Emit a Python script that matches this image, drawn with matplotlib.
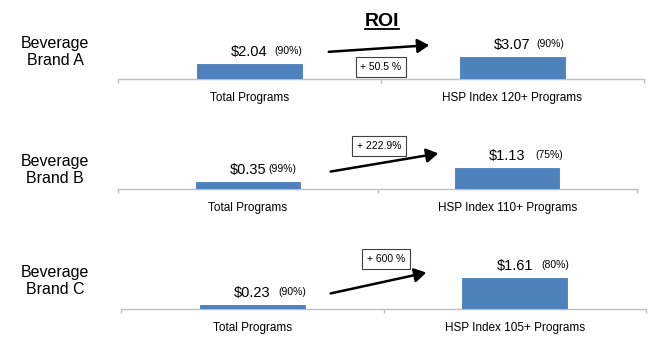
import matplotlib
matplotlib.use("Agg")
import matplotlib.pyplot as plt
from matplotlib.lines import Line2D

plt.rcParams["font.family"] = ["Liberation Sans", "DejaVu Sans"]

# ---- data -------------------------------------------------------------
brands = ["Beverage\nBrand A", "Beverage\nBrand B", "Beverage\nBrand C"]
categories_a = ["Total Programs", "HSP Index 120+ Programs"]
categories_b = ["Total Programs", "HSP Index 110+ Programs"]
categories_c = ["Total Programs", "HSP Index 105+ Programs"]
roi_a = [2.04, 3.07]
roi_b = [0.35, 1.13]
roi_c = [0.23, 1.61]
share_a = ["(90%)", "(90%)"]
share_b = ["(99%)", "(75%)"]
share_c = ["(90%)", "(80%)"]
lift_labels = ["+ 50.5 %", "+ 222.9%", "+ 600 %"]

# ---- layout (pixels, origin top-left) ----------------------------------
W, H = 663, 338
BLUE = "#4F81BD"
GRID = "#BFBFBF"

# axes: left, right, baseline y, y-scale (px per $)
panel_boxes = [(118, 644, 79, 7.3), (118, 637, 189, 18.8), (121, 646, 309, 19.5)]
panel_h = 49
brand_pos = [(55, 52), (55, 170), (55, 281)]
arrows = [((326, 52), (432, 45)), ((328, 172), (441, 153)), ((328, 294), (429, 272))]
boxes = [(381, 67), (379, 146), (386, 259)]
share_dx = [(25, 24), (21, 28), (26, 27)]


def fx(x):
    return x / W


def fy(y):
    return 1 - y / H


fig = plt.figure(figsize=(W / 100, H / 100), dpi=100)

panels = [
    (categories_a, roi_a, share_a),
    (categories_b, roi_b, share_b),
    (categories_c, roi_c, share_c),
]

for i, (cats, vals, shares) in enumerate(panels):
    left, right, base, scale = panel_boxes[i]
    ax = fig.add_axes([fx(left), fy(base), (right - left) / W, panel_h / H])
    ax.set_xlim(0, 2)
    ax.set_ylim(0, panel_h / scale)
    xs = [0.5, 1.5]
    ax.bar(xs, vals, width=0.4, color=BLUE, edgecolor="#4A7EBB", linewidth=0.6, zorder=3)
    for spine in ["top", "right", "left"]:
        ax.spines[spine].set_visible(False)
    ax.spines["bottom"].set_color(GRID)
    ax.spines["bottom"].set_linewidth(1.0)
    ax.set_yticks([])
    ax.set_xticks([0, 1, 2])
    ax.set_xticklabels([])
    ax.tick_params(axis="x", which="major", direction="out", length=3, color=GRID, width=1)
    ax.set_xticks(xs, minor=True)
    ax.set_xticklabels(cats, minor=True, fontsize=8.5)
    ax.tick_params(axis="x", which="minor", length=0, pad=9)
    ax.patch.set_visible(False)
    for j, (x, v) in enumerate(zip(xs, vals)):
        ax.annotate(f"${v:.2f}", xy=(x, v), xytext=(0, 12), textcoords="offset pixels",
                    ha="center", va="center", fontsize=10.5, annotation_clip=False)
        ax.annotate(shares[j], xy=(x, v), xytext=(share_dx[i][j], 13),
                    textcoords="offset pixels", ha="left", va="center", fontsize=7.5,
                    annotation_clip=False)

    # brand label
    bx, by = brand_pos[i]
    fig.text(fx(bx), fy(by), brands[i], ha="center", va="center", fontsize=11.5,
             linespacing=1.15)

    # growth arrow
    (x0, y0), (x1, y1) = arrows[i]
    fig.add_artist(matplotlib.patches.FancyArrowPatch(
        (fx(x0), fy(y0)), (fx(x1), fy(y1)), transform=fig.transFigure,
        arrowstyle="-|>,head_length=5,head_width=3", mutation_scale=1.4,
        color="black", linewidth=1.8))

    # lift box
    cx, cy = boxes[i]
    fig.text(fx(cx), fy(cy), lift_labels[i], ha="center", va="center", fontsize=7.5,
             bbox=dict(boxstyle="square,pad=0.45", facecolor="white",
                       edgecolor="#404040", linewidth=0.8))

# title with underline
title = fig.text(fx(382), fy(21), "ROI", ha="center", va="center", fontsize=14,
                 fontweight="bold")
fig.canvas.draw()
bb = title.get_window_extent(renderer=fig.canvas.get_renderer())
uy = bb.y0 + 1
fig.add_artist(Line2D([bb.x0 / W, bb.x1 / W], [uy / H, uy / H],
                      transform=fig.transFigure, color="black", linewidth=1.3))

fig.savefig("out.png", dpi=100, facecolor="white")
